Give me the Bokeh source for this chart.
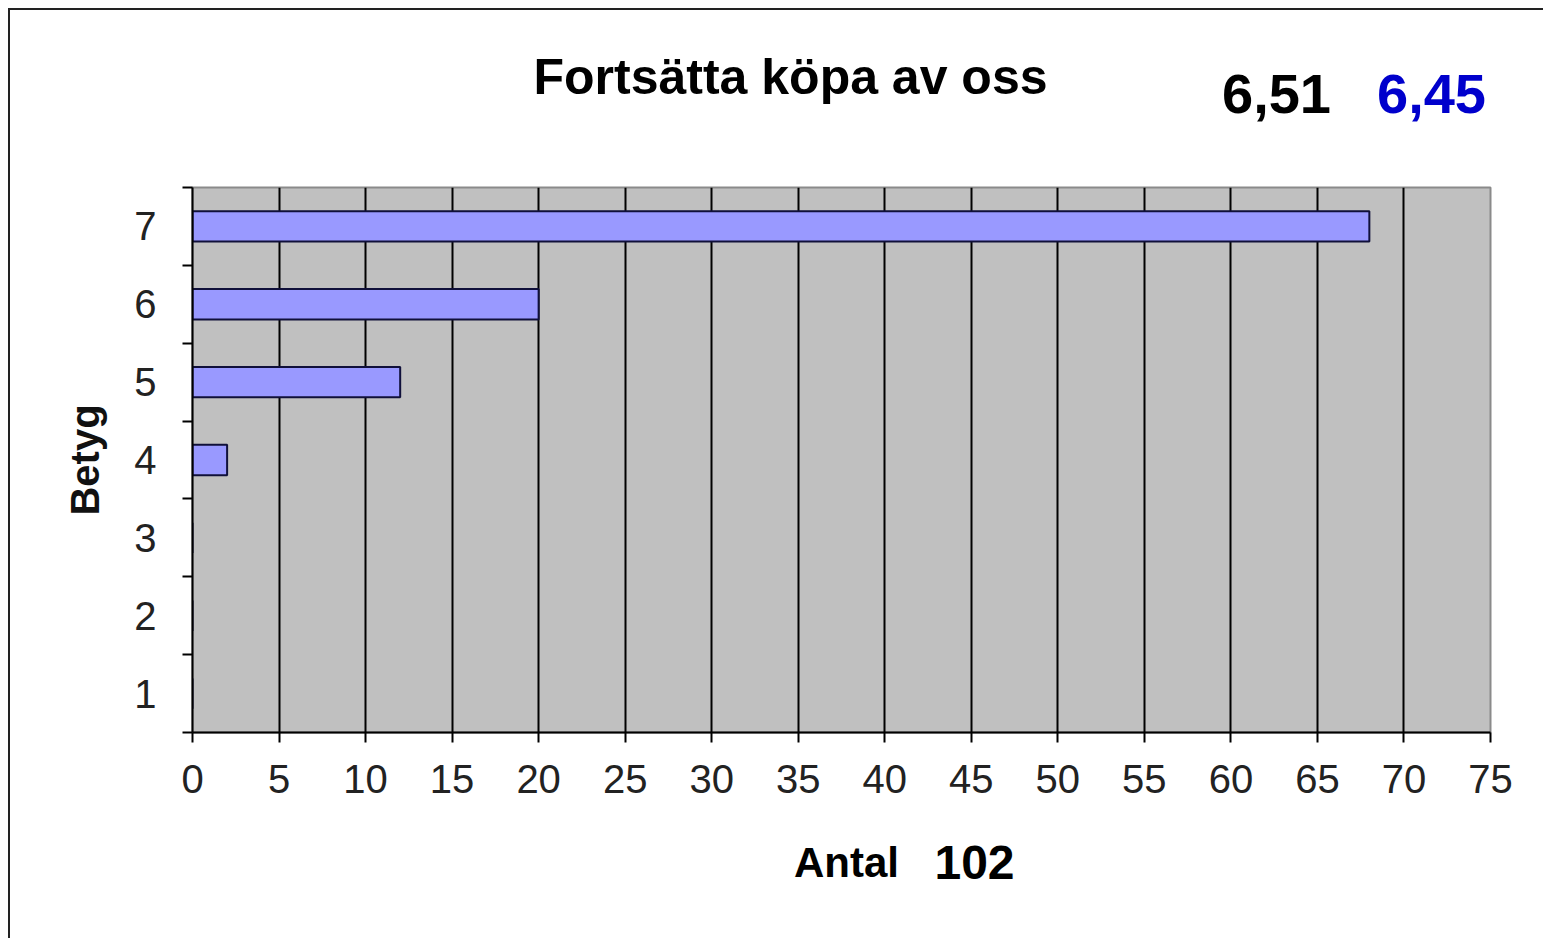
from bokeh.plotting import figure
from bokeh.layouts import column
from bokeh.models import Range1d, FixedTicker, Label
from bokeh.embed import file_html
from bokeh.resources import INLINE

# --- data ---
betyg = [1, 2, 3, 4, 5, 6, 7]
antal = [0, 0, 0, 2, 12, 20, 68]
x_ticks = [0, 5, 10, 15, 20, 25, 30, 35, 40, 45, 50, 55, 60, 65, 70, 75]
title_text = "Fortsätta köpa av oss"
score_a = "6,51"
score_b = "6,45"
total_label = "Antal"
total_value = "102"
y_label = "Betyg"

FONT = "Liberation Sans"
W = 1533
H_TOP, H_MAIN, H_BOT = 167, 640, 121
# page x of the (column-aligned) plot frame
FRAME_X0, FRAME_X1 = 192, 1490


def text_panel(h):
    f = figure(width=W, height=h, output_backend="svg", toolbar_location=None,
               title=None, x_range=Range1d(FRAME_X0, FRAME_X1), y_range=Range1d(0, h),
               x_axis_type=None, y_axis_type=None,
               min_border_left=182, min_border_right=53,
               min_border_top=0, min_border_bottom=0)
    f.outline_line_color = None
    f.background_fill_color = "white"
    f.border_fill_color = "white"
    f.xgrid.visible = False
    f.ygrid.visible = False
    return f


def add_label(f, txt, x, y, size, color="black", style="bold"):
    f.add_layout(Label(x=x, y=y, text=txt, text_font=FONT, text_font_size=size,
                       text_font_style=style, text_color=color,
                       text_align="center", text_baseline="middle"))


# --- title strip ---
top = text_panel(H_TOP)
add_label(top, title_text, 790, 101, "50px")
add_label(top, score_a, 1276, 84, "56px")
add_label(top, score_b, 1431, 84, "56px", color="#0000CC")

# --- main chart ---
p = figure(width=W, height=H_MAIN, output_backend="svg", toolbar_location=None,
           title=None,
           x_range=Range1d(x_ticks[0], x_ticks[-1]),
           y_range=Range1d(betyg[0] - 0.5, betyg[-1] + 0.5),
           min_border_left=182, min_border_right=53,
           min_border_top=10, min_border_bottom=85)

p.background_fill_color = "#C0C0C0"
p.border_fill_color = "white"
p.outline_line_color = "#8a8a8a"
p.outline_line_width = 2

p.hbar(y=betyg, right=antal, left=0, height=0.39,
       fill_color="#9999FF", line_color="#10103a", line_width=2)

# x axis
p.xaxis.ticker = FixedTicker(ticks=x_ticks)
p.xaxis.axis_line_color = "black"
p.xaxis.axis_line_width = 2
p.xaxis.major_tick_line_color = "black"
p.xaxis.major_tick_line_width = 2
p.xaxis.major_tick_out = 10
p.xaxis.major_tick_in = 0
p.xaxis.minor_tick_line_color = None
p.xaxis.major_label_standoff = 22
p.xaxis.major_label_text_font = FONT
p.xaxis.major_label_text_font_size = "40px"
p.xaxis.major_label_text_color = "#222222"

# y axis: labels at category centres, ticks at boundaries
bounds = [b - 0.5 for b in betyg] + [betyg[-1] + 0.5]
p.yaxis.ticker = FixedTicker(ticks=betyg, minor_ticks=bounds)
p.yaxis.axis_line_color = "black"
p.yaxis.axis_line_width = 2
p.yaxis.major_tick_line_color = None
p.yaxis.minor_tick_line_color = "black"
p.yaxis.minor_tick_line_width = 2
p.yaxis.minor_tick_out = 10
p.yaxis.minor_tick_in = 0
p.yaxis.major_label_standoff = 26
p.yaxis.major_label_text_font = FONT
p.yaxis.major_label_text_font_size = "40px"
p.yaxis.major_label_text_color = "#222222"
p.yaxis.axis_label = y_label
p.yaxis.axis_label_text_font = FONT
p.yaxis.axis_label_text_font_style = "bold"
p.yaxis.axis_label_text_font_size = "40px"
p.yaxis.axis_label_text_color = "#111111"
p.yaxis.axis_label_standoff = 24

# grid
p.ygrid.grid_line_color = None
p.xgrid.ticker = FixedTicker(ticks=x_ticks[1:-1])
p.xgrid.grid_line_color = "black"
p.xgrid.grid_line_width = 2
p.xgrid.grid_line_alpha = 1.0

# --- bottom strip ---
bot = text_panel(H_BOT)
add_label(bot, total_label, 846, 76, "42px")
add_label(bot, total_value, 974, 76, "48px")

layout = column(top, p, bot, spacing=0)
layout.styles = {"border-left": "2px solid #222", "border-top": "2px solid #222",
                 "margin-left": "8px", "margin-top": "8px"}

open("out.html", "w").write(file_html(layout, INLINE))
